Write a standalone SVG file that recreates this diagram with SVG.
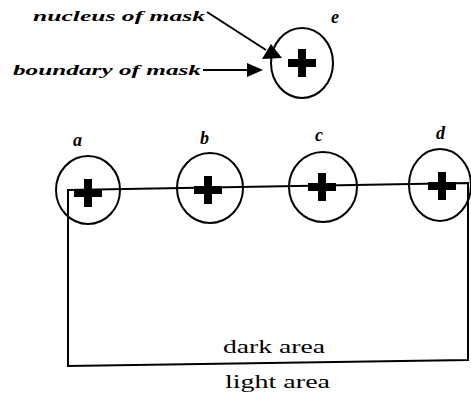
<svg xmlns="http://www.w3.org/2000/svg" width="471" height="398" viewBox="0 0 471 398">
<defs>
<style>
.ring{fill:none;stroke:#000;stroke-width:2}
.plus{fill:#000}
.lab{font-family:"Liberation Serif",serif;font-weight:bold;font-style:italic;font-size:18px;fill:#000}
.note{font-family:"Liberation Serif",serif;font-weight:bold;font-style:italic;font-size:15px;fill:#000}
.area{font-family:"Liberation Serif",serif;font-size:18px;fill:#000}
.edge{fill:none;stroke:#000;stroke-width:2}
</style>
<path id="cross" d="M-4,-14 H4 V-4 H14 V4 H4 V14 H-4 V4 H-14 V-4 H-4 Z"/>
</defs>
<rect width="471" height="398" fill="#fff"/>
<g id="connectors">
<path class="edge" d="M68,190 L468,183 L468,360 L68,366 Z"/>
<path class="edge" d="M207,12 L266,50" stroke-width="1.5"/>
<polygon points="271,44 262,59 282,58" fill="#000"/>
<path class="edge" d="M203,70 L250,70"/>
<polygon points="263,70 247,63 247,77" fill="#000"/>
</g>
<g id="node-e">
<ellipse class="ring" cx="302" cy="63" rx="31" ry="35"/>
<use href="#cross" x="302" y="63" class="plus"/>
<text class="lab" x="331" y="23">e</text>
</g>
<g id="node-a">
<ellipse class="ring" cx="88" cy="190" rx="32" ry="34"/>
<use href="#cross" x="88" y="193" class="plus"/>
<text class="lab" x="73" y="146">a</text>
</g>
<g id="node-b">
<ellipse class="ring" cx="210" cy="188" rx="33" ry="35"/>
<use href="#cross" x="208" y="190" class="plus"/>
<text class="lab" x="200" y="144">b</text>
</g>
<g id="node-c">
<ellipse class="ring" cx="323" cy="187" rx="34" ry="35"/>
<use href="#cross" x="322" y="187" class="plus"/>
<text class="lab" x="315" y="141">c</text>
</g>
<g id="node-d">
<ellipse class="ring" cx="440" cy="185" rx="31" ry="36"/>
<use href="#cross" x="442" y="186" class="plus"/>
<text class="lab" x="436" y="139">d</text>
</g>
<g id="labels">
<text class="note" x="33" y="21" textLength="172" lengthAdjust="spacingAndGlyphs">nucleus of mask</text>
<text class="note" x="13" y="75" textLength="188" lengthAdjust="spacingAndGlyphs">boundary of mask</text>
<text class="area" x="223" y="353" textLength="102" lengthAdjust="spacingAndGlyphs">dark area</text>
<text class="area" x="225" y="388" textLength="105" lengthAdjust="spacingAndGlyphs">light area</text>
</g>
</svg>
